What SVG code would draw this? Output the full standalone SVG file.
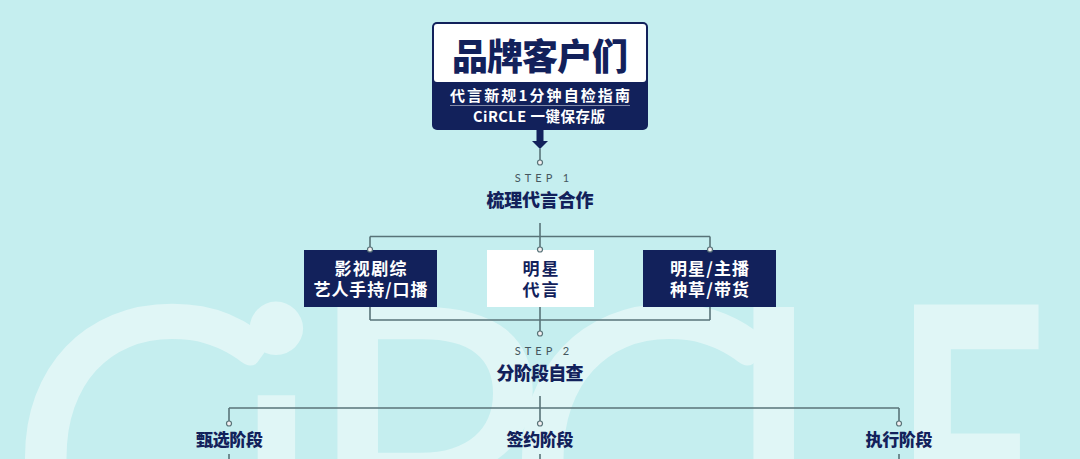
<svg xmlns="http://www.w3.org/2000/svg" width="1080" height="459" viewBox="0 0 1080 459">
<defs>
<style>
.wm{font-family:Lato,"Open Sans",sans-serif;font-size:420px;fill:#e0f6f6;}
.cn{stroke:#587378;stroke-width:1.6;fill:none;}
.dot{stroke:#587378;stroke-width:1.2;fill:#f3eef0;}
.step{font-family:Lato,"Liberation Sans",sans-serif;font-size:11px;fill:#44565e;letter-spacing:4px;text-anchor:middle;}
.h{font-family:"Noto Sans CJK SC",sans-serif;font-weight:900;fill:#12215b;text-anchor:middle;}
.lw{font-family:"Noto Sans CJK SC",sans-serif;font-weight:700;font-size:17px;fill:#ffffff;text-anchor:middle;}
.ln{font-family:"Noto Sans CJK SC",sans-serif;font-weight:700;font-size:17px;fill:#12215b;text-anchor:middle;}
.navy{fill:#12215b;}
</style>
</defs>
<rect x="0" y="0" width="1080" height="459" fill="#c5eeef"/>
<g id="watermark">
<text class="wm" x="5" y="608">C</text>
<text class="wm" x="226" y="608">i</text>
<text class="wm" x="299" y="608">R</text>
<text class="wm" x="502" y="608">C</text>
<text class="wm" x="715" y="608">L</text>
<text class="wm" transform="translate(892,608) scale(0.65,1)" x="0" y="0" font-weight="700">E</text>
</g>
<g id="connectors">
<path class="navy" d="M536.5,130 H543.5 V141 H548 L540,149 L532,141 H536.5 Z"/>
<line class="cn" x1="540" y1="149" x2="540" y2="160"/>
<circle class="dot" cx="540" cy="162.5" r="2.5" fill="#c5eeef"/>
<line class="cn" x1="540" y1="223" x2="540" y2="236.5"/>
<line class="cn" x1="370" y1="236.5" x2="710" y2="236.5"/>
<line class="cn" x1="370" y1="236.5" x2="370" y2="247"/>
<line class="cn" x1="540" y1="236.5" x2="540" y2="247"/>
<line class="cn" x1="710" y1="236.5" x2="710" y2="247"/>
<line class="cn" x1="370" y1="307" x2="370" y2="320"/>
<line class="cn" x1="710" y1="307" x2="710" y2="320"/>
<line class="cn" x1="370" y1="320" x2="710" y2="320"/>
<line class="cn" x1="540" y1="307" x2="540" y2="331"/>
<line class="cn" x1="540" y1="396" x2="540" y2="408"/>
<line class="cn" x1="229" y1="408" x2="899" y2="408"/>
<line class="cn" x1="229" y1="408" x2="229" y2="421"/>
<line class="cn" x1="540" y1="408" x2="540" y2="421"/>
<line class="cn" x1="899" y1="408" x2="899" y2="421"/>
<line class="cn" x1="229" y1="454" x2="229" y2="459"/>
<line class="cn" x1="540" y1="454" x2="540" y2="459"/>
<line class="cn" x1="899" y1="454" x2="899" y2="459"/>
</g>
<g id="title">
<rect x="432" y="22" width="216" height="108" rx="5" class="navy"/>
<rect x="434" y="24" width="212" height="58" rx="3" fill="#ffffff"/>
<text class="h" x="540" y="70" font-size="36" textLength="176" lengthAdjust="spacing">品牌客户们</text>
<text class="lw" x="540" y="101" style="font-size:15px" textLength="180" lengthAdjust="spacing">代言新规1分钟自检指南</text>
<line x1="450" y1="105.5" x2="630" y2="105.5" stroke="#ffffff" stroke-opacity="0.6" stroke-width="0.8"/>
<text class="lw" x="539" y="122" style="font-size:14.5px" textLength="132" lengthAdjust="spacing">CiRCLE 一键保存版</text>
</g>
<g id="step1">
<text class="step" x="544" y="182">STEP 1</text>
<text class="h" x="540" y="207" font-size="18" textLength="107" lengthAdjust="spacing">梳理代言合作</text>
</g>
<g id="node-film">
<rect x="304" y="250" width="133" height="57" class="navy"/>
<text class="lw" x="370.5" y="275" textLength="72" lengthAdjust="spacing">影视剧综</text>
<text class="lw" x="370.5" y="296" textLength="114" lengthAdjust="spacing">艺人手持/口播</text>
</g>
<g id="node-star">
<rect x="487" y="250" width="107" height="57" fill="#ffffff"/>
<text class="ln" x="540.5" y="275" textLength="36" lengthAdjust="spacing">明星</text>
<text class="ln" x="540.5" y="296" textLength="36" lengthAdjust="spacing">代言</text>
</g>
<g id="node-live">
<rect x="643" y="250" width="133" height="57" class="navy"/>
<text class="lw" x="709.5" y="275" textLength="79" lengthAdjust="spacing">明星/主播</text>
<text class="lw" x="709.5" y="296" textLength="79" lengthAdjust="spacing">种草/带货</text>
</g>
<g id="dots1">
<circle class="dot" cx="370" cy="249.5" r="2.5"/>
<circle class="dot" cx="540" cy="249.5" r="2.5"/>
<circle class="dot" cx="710" cy="249.5" r="2.5"/>
<circle class="dot" cx="540" cy="333.5" r="2.5" fill="#c5eeef"/>
</g>
<g id="step2">
<text class="step" x="544" y="355">STEP 2</text>
<text class="h" x="540" y="380" font-size="18" textLength="87" lengthAdjust="spacing">分阶段自查</text>
</g>
<g id="stage-select">
<circle class="dot" cx="229" cy="423.5" r="2.5" fill="#c5eeef"/>
<text class="h" x="229.5" y="446" font-size="17" textLength="67" lengthAdjust="spacing">甄选阶段</text>
</g>
<g id="stage-sign">
<circle class="dot" cx="540" cy="423.5" r="2.5" fill="#c5eeef"/>
<text class="h" x="540" y="446" font-size="17" textLength="67" lengthAdjust="spacing">签约阶段</text>
</g>
<g id="stage-exec">
<circle class="dot" cx="899" cy="423.5" r="2.5" fill="#c5eeef"/>
<text class="h" x="899" y="446" font-size="17" textLength="67" lengthAdjust="spacing">执行阶段</text>
</g>
</svg>
